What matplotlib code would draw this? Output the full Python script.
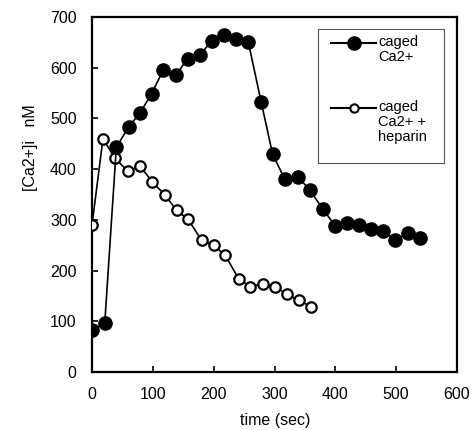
import matplotlib
matplotlib.use("Agg")
import matplotlib.pyplot as plt
from matplotlib.lines import Line2D
from matplotlib.patches import Rectangle

plt.rcParams['font.family'] = ['Liberation Sans', 'DejaVu Sans']

# caged Ca2+ (filled circles)
t_caged = [0, 21, 40, 60, 79, 98, 117, 138, 157, 178, 197, 217, 237, 257,
           278, 297, 317, 339, 358, 379, 400, 419, 439, 459, 479, 498, 519, 539]
ca_caged = [83, 97, 443, 483, 511, 549, 595, 585, 618, 626, 653, 664, 657, 650,
            533, 429, 380, 384, 359, 322, 288, 293, 290, 282, 279, 260, 275, 265]

# caged Ca2+ + heparin (open circles)
t_hep = [0, 18, 38, 59, 79, 99, 120, 139, 158, 180, 200, 219, 241, 260,
         281, 301, 320, 340, 360]
ca_hep = [290, 460, 421, 396, 406, 375, 349, 319, 301, 260, 250, 230, 184, 168,
          174, 168, 154, 141, 129]

xticks = [0, 100, 200, 300, 400, 500, 600]
yticks = [0, 100, 200, 300, 400, 500, 600, 700]
legend_labels = ["caged\nCa2+", "caged\nCa2+ +\nheparin"]

fig = plt.figure(figsize=(4.75, 4.3), dpi=100)
ax = fig.add_axes([92/475, 1-372/430, 365/475, 355/430])

ax.plot(t_hep, ca_hep, color='black', lw=1.2, marker='o', ms=7.5,
        mfc='white', mec='black', mew=1.6, zorder=3)
ax.plot(t_caged, ca_caged, color='black', lw=1.2, marker='o', ms=9.5,
        mfc='black', mec='black', zorder=4)

ax.set_xlim(0, 600)
ax.set_ylim(0, 700)
ax.set_xticks(xticks)
ax.set_yticks(yticks)
ax.tick_params(direction='in', length=4, width=1.2, labelsize=11.5,
               top=False, right=False)
ax.tick_params(axis='y', pad=11)
ax.tick_params(axis='x', pad=11)
for s in ax.spines.values():
    s.set_linewidth(1.6)

fig.text(275/475, 1-421/430, "time (sec)", ha='center', va='center', fontsize=11.5)
fig.text(30/475, 1-148/430, "[Ca2+]i   nM", ha='center', va='center',
         rotation=90, fontsize=11.5)

# legend drawn manually
x0, x1 = (318-92)/365, (444-92)/365
y0, y1 = (372-163)/355, (372-29)/355
ax.add_patch(Rectangle((x0, y0), x1-x0, y1-y0, transform=ax.transAxes,
                       fill=False, ec='#555555', lw=0.8, zorder=5))
hx0, hx1 = (331-92)/365, (376-92)/365
tx = (378-92)/365
entries = [(43, dict(ms=9.5, mfc='black')), (108, dict(ms=6, mfc='white', mew=1.5))]
for (yp, style), lab in zip(entries, legend_labels):
    yy = (372-yp)/355
    ax.add_line(Line2D([hx0, hx1], [yy, yy], transform=ax.transAxes, color='black',
                       lw=1.5, zorder=6))
    ax.add_line(Line2D([(hx0+hx1)/2], [yy], transform=ax.transAxes, color='black',
                       marker='o', mec='black', zorder=7, **style))
    ax.text(tx, yy + 8/355, lab, transform=ax.transAxes, ha='left', va='top',
            fontsize=10.5, linespacing=1.1, zorder=7)

fig.savefig("out.png", dpi=100)
